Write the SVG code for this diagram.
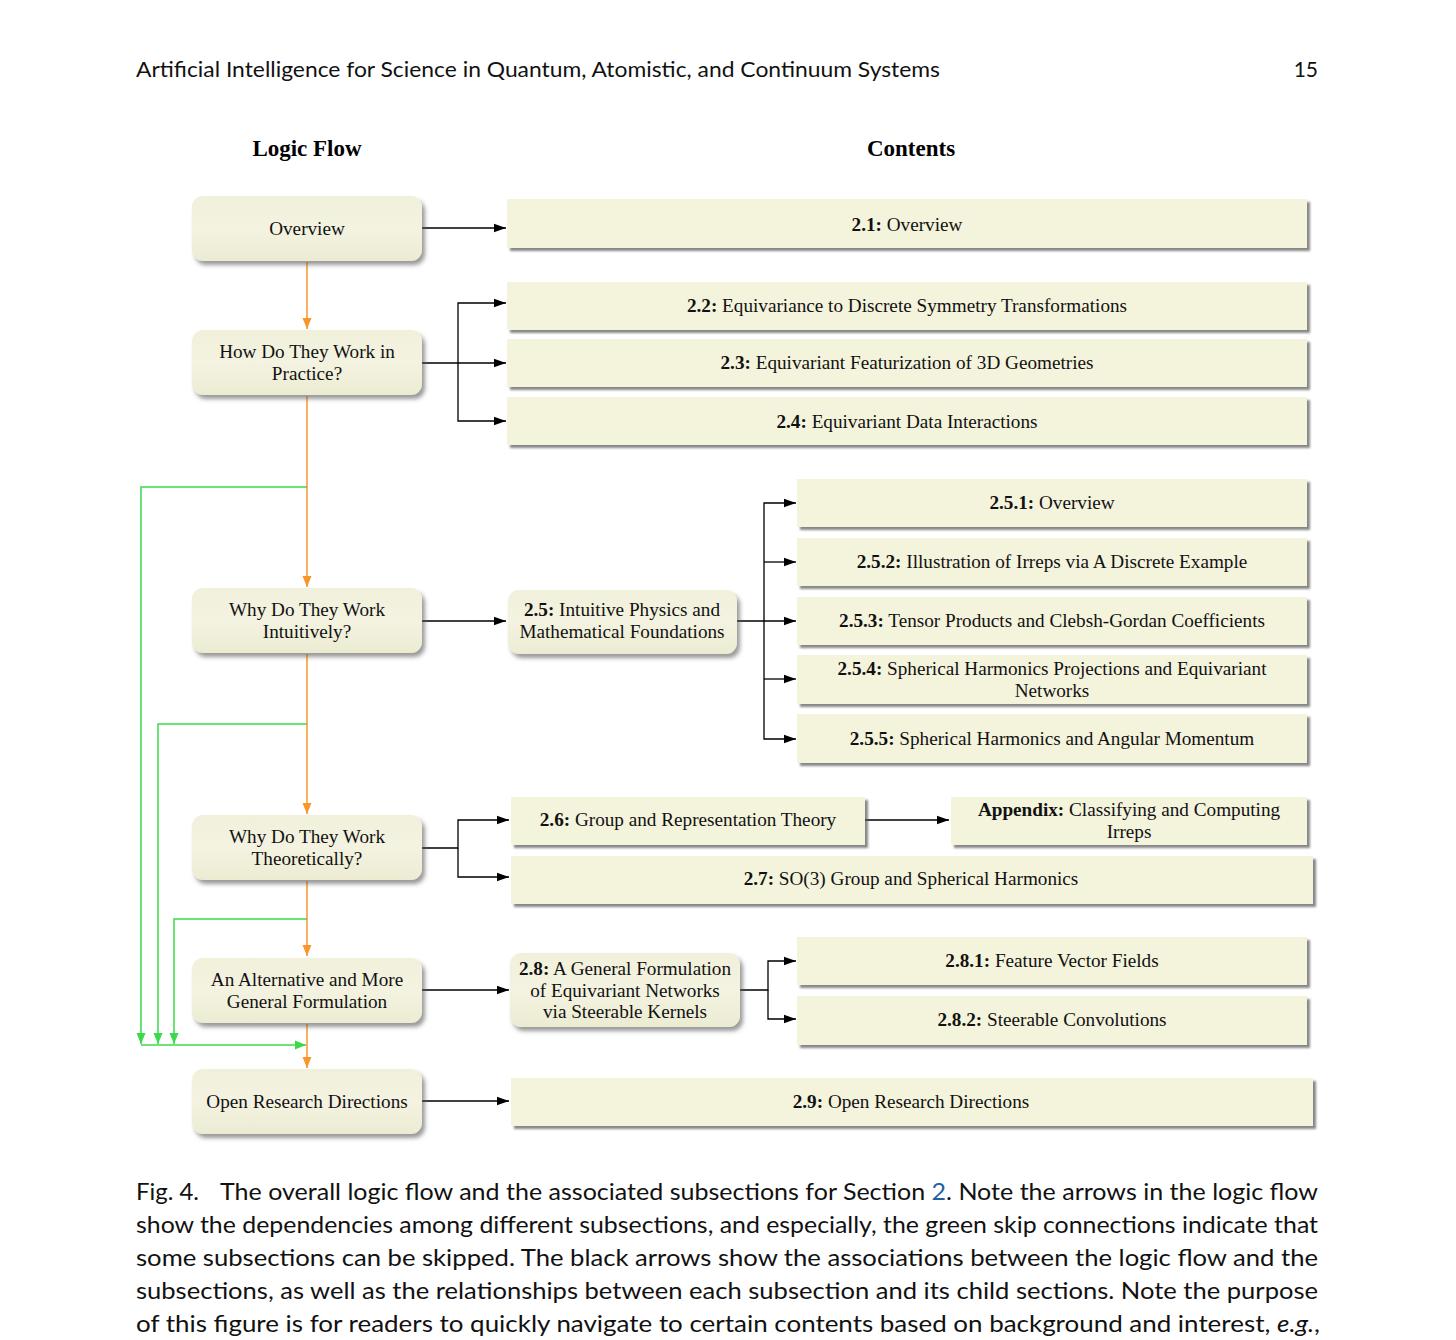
<svg xmlns="http://www.w3.org/2000/svg" width="1456" height="1340" viewBox="0 0 1456 1340">
<style>
.t{font-family:"Liberation Serif","Times New Roman",serif;font-size:19.2px;fill:#111;text-anchor:middle}
.b{font-weight:bold}
.h{font-family:"Liberation Serif","Times New Roman",serif;font-size:23px;font-weight:bold;fill:#000;text-anchor:middle}
.cap{font-family:"Lato","Open Sans",sans-serif;font-size:24px;fill:#111}
.hdr{font-family:"Lato","Open Sans",sans-serif;font-size:21px;fill:#111}
.lb{fill:url(#lg);filter:url(#sh)}
.cb{fill:#f4f3dc;filter:url(#sh2)}
.k{fill:none;stroke:#000;stroke-width:1.3}
.o{fill:none;stroke:#f7972b;stroke-width:1.5}
.g{fill:none;stroke:#3bd94b;stroke-width:1.5}
</style>
<defs>
<linearGradient id="lg" x1="0" y1="0" x2="0" y2="1">
<stop offset="0" stop-color="#f1f0db"/>
<stop offset="0.5" stop-color="#f4f3e1"/>
<stop offset="1" stop-color="#ecebd2"/>
</linearGradient>
<filter id="sh" x="-10%" y="-20%" width="125%" height="150%">
<feDropShadow dx="3" dy="4" stdDeviation="2" flood-color="#555" flood-opacity="0.6"/>
</filter>
<filter id="sh2" x="-5%" y="-20%" width="115%" height="150%">
<feDropShadow dx="3" dy="3" stdDeviation="1.2" flood-color="#555" flood-opacity="0.7"/>
</filter>
<marker id="ak" markerUnits="userSpaceOnUse" markerWidth="13" markerHeight="10" refX="12" refY="5" orient="auto">
<path d="M0,0.8 L12,5 L0,9.2 Z" fill="#000"/>
</marker>
<marker id="ao" markerUnits="userSpaceOnUse" markerWidth="12" markerHeight="12" refX="11" refY="6" orient="auto">
<path d="M0,1.5 L11,6 L0,10.5 Z" fill="#f7972b"/>
</marker>
<marker id="ag" markerUnits="userSpaceOnUse" markerWidth="12" markerHeight="12" refX="11" refY="6" orient="auto">
<path d="M0,1.5 L11,6 L0,10.5 Z" fill="#3bd94b"/>
</marker>
</defs>
<rect width="1456" height="1340" fill="#fff"/>

<text class="hdr" x="136" y="77" textLength="804" lengthAdjust="spacingAndGlyphs">Artificial Intelligence for Science in Quantum, Atomistic, and Continuum Systems</text>
<text class="hdr" x="1318" y="77" text-anchor="end">15</text>

<text class="h" x="307" y="156">Logic Flow</text>
<text class="h" x="911" y="156">Contents</text>

<g id="connectors">
<path class="o" d="M307,262 V329" marker-end="url(#ao)"/>
<path class="o" d="M307,396 V587" marker-end="url(#ao)"/>
<path class="o" d="M307,654 V814" marker-end="url(#ao)"/>
<path class="o" d="M307,881 V956" marker-end="url(#ao)"/>
<path class="o" d="M307,1024 V1068" marker-end="url(#ao)"/>
<path class="g" d="M307,487 H141 V1044" marker-end="url(#ag)"/>
<path class="g" d="M307,724 H158 V1044" marker-end="url(#ag)"/>
<path class="g" d="M307,919 H174 V1044" marker-end="url(#ag)"/>
<path class="g" d="M141,1045 H306" marker-end="url(#ag)"/>
<path class="k" d="M422,228 H506" marker-end="url(#ak)"/>
<path class="k" d="M422,363 H506" marker-end="url(#ak)"/>
<path class="k" d="M458,363 V303 H506" marker-end="url(#ak)"/>
<path class="k" d="M458,363 V421 H506" marker-end="url(#ak)"/>
<path class="k" d="M422,621 H506" marker-end="url(#ak)"/>
<path class="k" d="M737,621 H796" marker-end="url(#ak)"/>
<path class="k" d="M764,621 V503 H796" marker-end="url(#ak)"/>
<path class="k" d="M764,562 H796" marker-end="url(#ak)"/>
<path class="k" d="M764,679 H796" marker-end="url(#ak)"/>
<path class="k" d="M764,621 V739 H796" marker-end="url(#ak)"/>
<path class="k" d="M422,848 H458 V820 H509" marker-end="url(#ak)"/>
<path class="k" d="M458,848 V877 H509" marker-end="url(#ak)"/>
<path class="k" d="M865,820 H949" marker-end="url(#ak)"/>
<path class="k" d="M422,990 H509" marker-end="url(#ak)"/>
<path class="k" d="M740,990 H768 V961 H796" marker-end="url(#ak)"/>
<path class="k" d="M768,990 V1019 H796" marker-end="url(#ak)"/>
<path class="k" d="M422,1101 H509" marker-end="url(#ak)"/>
</g>

<g id="n-overview"><rect class="lb" x="192" y="196" width="230" height="65" rx="11"/>
<text class="t" x="307" y="235">Overview</text></g>
<g id="n-how"><rect class="lb" x="192" y="330" width="230" height="65" rx="11"/>
<text class="t" x="307" y="358">How Do They Work in</text><text class="t" x="307" y="380">Practice?</text></g>
<g id="n-why-int"><rect class="lb" x="192" y="588" width="230" height="65" rx="11"/>
<text class="t" x="307" y="616">Why Do They Work</text><text class="t" x="307" y="638">Intuitively?</text></g>
<g id="n-why-theo"><rect class="lb" x="192" y="815" width="230" height="65" rx="11"/>
<text class="t" x="307" y="843">Why Do They Work</text><text class="t" x="307" y="865">Theoretically?</text></g>
<g id="n-alt"><rect class="lb" x="192" y="958" width="230" height="65" rx="11"/>
<text class="t" x="307" y="986">An Alternative and More</text><text class="t" x="307" y="1008">General Formulation</text></g>
<g id="n-open"><rect class="lb" x="192" y="1069" width="230" height="65" rx="11"/>
<text class="t" x="307" y="1108">Open Research Directions</text></g>

<g id="c-21"><rect class="cb" x="507" y="199" width="800" height="49"/>
<text class="t" x="907" y="231"><tspan class="b">2.1:</tspan> Overview</text></g>
<g id="c-22"><rect class="cb" x="507" y="282" width="800" height="48"/>
<text class="t" x="907" y="312"><tspan class="b">2.2:</tspan> Equivariance to Discrete Symmetry Transformations</text></g>
<g id="c-23"><rect class="cb" x="507" y="339" width="800" height="48"/>
<text class="t" x="907" y="369"><tspan class="b">2.3:</tspan> Equivariant Featurization of 3D Geometries</text></g>
<g id="c-24"><rect class="cb" x="507" y="397" width="800" height="48"/>
<text class="t" x="907" y="428"><tspan class="b">2.4:</tspan> Equivariant Data Interactions</text></g>

<g id="c-25"><rect class="lb" x="508" y="590" width="229" height="64" rx="11"/>
<text class="t" x="622" y="616"><tspan class="b">2.5:</tspan> Intuitive Physics and</text><text class="t" x="622" y="638">Mathematical Foundations</text></g>
<g id="c-251"><rect class="cb" x="797" y="479" width="510" height="48"/>
<text class="t" x="1052" y="509"><tspan class="b">2.5.1:</tspan> Overview</text></g>
<g id="c-252"><rect class="cb" x="797" y="538" width="510" height="48"/>
<text class="t" x="1052" y="568"><tspan class="b">2.5.2:</tspan> Illustration of Irreps via A Discrete Example</text></g>
<g id="c-253"><rect class="cb" x="797" y="597" width="510" height="48"/>
<text class="t" x="1052" y="627"><tspan class="b">2.5.3:</tspan> Tensor Products and Clebsh-Gordan Coefficients</text></g>
<g id="c-254"><rect class="cb" x="797" y="655" width="510" height="49"/>
<text class="t" x="1052" y="675"><tspan class="b">2.5.4:</tspan> Spherical Harmonics Projections and Equivariant</text><text class="t" x="1052" y="697">Networks</text></g>
<g id="c-255"><rect class="cb" x="797" y="714" width="510" height="49"/>
<text class="t" x="1052" y="745"><tspan class="b">2.5.5:</tspan> Spherical Harmonics and Angular Momentum</text></g>

<g id="c-26"><rect class="cb" x="511" y="797" width="354" height="48"/>
<text class="t" x="688" y="826"><tspan class="b">2.6:</tspan> Group and Representation Theory</text></g>
<g id="c-app"><rect class="cb" x="951" y="797" width="356" height="48"/>
<text class="t" x="1129" y="816"><tspan class="b">Appendix:</tspan> Classifying and Computing</text><text class="t" x="1129" y="838">Irreps</text></g>
<g id="c-27"><rect class="cb" x="511" y="856" width="802" height="48"/>
<text class="t" x="911" y="885"><tspan class="b">2.7:</tspan> SO(3) Group and Spherical Harmonics</text></g>

<g id="c-28"><rect class="lb" x="510" y="953" width="230" height="74" rx="11"/>
<text class="t" x="625" y="975"><tspan class="b">2.8:</tspan> A General Formulation</text><text class="t" x="625" y="997">of Equivariant Networks</text><text class="t" x="625" y="1018">via Steerable Kernels</text></g>
<g id="c-281"><rect class="cb" x="797" y="937" width="510" height="48"/>
<text class="t" x="1052" y="967"><tspan class="b">2.8.1:</tspan> Feature Vector Fields</text></g>
<g id="c-282"><rect class="cb" x="797" y="996" width="510" height="49"/>
<text class="t" x="1052" y="1026"><tspan class="b">2.8.2:</tspan> Steerable Convolutions</text></g>

<g id="c-29"><rect class="cb" x="511" y="1078" width="802" height="48"/>
<text class="t" x="911" y="1108"><tspan class="b">2.9:</tspan> Open Research Directions</text></g>

<g id="caption">
<text class="cap" x="136" y="1200" textLength="63" lengthAdjust="spacingAndGlyphs">Fig. 4.</text>
<text class="cap" x="220" y="1200" textLength="1098" lengthAdjust="spacingAndGlyphs">The overall logic flow and the associated subsections for Section <tspan fill="#1f5fa0">2</tspan>. Note the arrows in the logic flow</text>
<text class="cap" x="136" y="1233" textLength="1182" lengthAdjust="spacingAndGlyphs">show the dependencies among different subsections, and especially, the green skip connections indicate that</text>
<text class="cap" x="136" y="1266" textLength="1182" lengthAdjust="spacingAndGlyphs">some subsections can be skipped. The black arrows show the associations between the logic flow and the</text>
<text class="cap" x="136" y="1299" textLength="1182" lengthAdjust="spacingAndGlyphs">subsections, as well as the relationships between each subsection and its child sections. Note the purpose</text>
<text class="cap" x="136" y="1332" textLength="1184" lengthAdjust="spacingAndGlyphs">of this figure is for readers to quickly navigate to certain contents based on background and interest, <tspan font-style="italic">e.g.</tspan>,</text>
</g>
</svg>
